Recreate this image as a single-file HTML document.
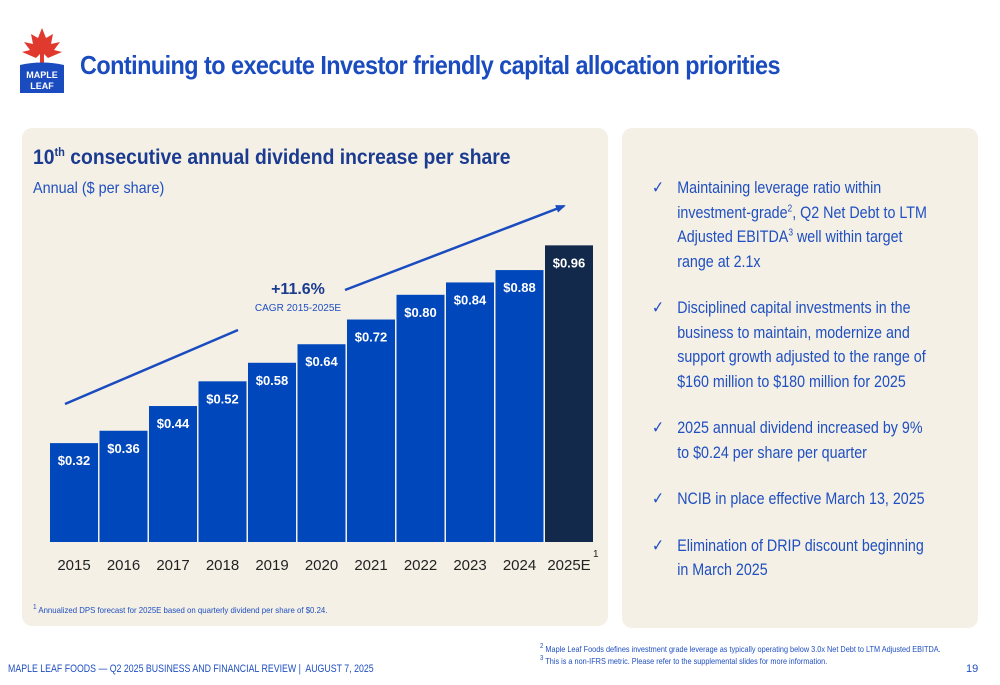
<!DOCTYPE html>
<html><head><meta charset="utf-8"><style>
body{margin:0;width:1000px;height:685px;background:#fff;font-family:"Liberation Sans",sans-serif;position:relative;overflow:hidden}
.abs{position:absolute}
.panel{position:absolute;background:#f4f0e6;border-radius:10px}
.title{left:80px;top:50px;font-size:26px;font-weight:bold;color:#1a4bbf;letter-spacing:-0.6px;transform:scaleX(0.9);transform-origin:left}
ul{list-style:none;margin:0;padding:0}
li{position:relative;padding-left:30px;font-size:17px;line-height:24.5px;color:#1f4fc0;margin-bottom:22px}
li:before{content:"✓";position:absolute;left:0;top:0}
sup{line-height:0}
</style></head><body>
<div class="abs" style="left:18px;top:28px;width:48px;height:66px">
<svg width="48" height="66"><polygon points="24,0 28,10 35,6 33,16 42,14 36,22 44,24 30,30 26,26 26,36 22,36 22,26 18,30 4,24 12,22 6,14 15,16 13,6 20,10" fill="#e03a2f"/><path d="M2 37 Q24 32 46 37 L46 65 L2 65Z" fill="#1a4bbf"/><text x="24" y="50" font-size="9" font-weight="bold" fill="#fff" text-anchor="middle">MAPLE</text><text x="24" y="61" font-size="9" font-weight="bold" fill="#fff" text-anchor="middle">LEAF</text></svg></div>
<div class="abs title">Continuing to execute Investor friendly capital allocation priorities</div>
<div class="panel" style="left:22px;top:128px;width:586px;height:498px"></div>
<div class="panel" style="left:622px;top:128px;width:356px;height:500px"></div>
<div class="abs" style="left:33px;top:146px;font-size:21px;font-weight:bold;color:#1a3b8f;transform:scaleX(0.92);transform-origin:left;white-space:nowrap">10<sup style="font-size:12px">th</sup> consecutive annual dividend increase per share</div>
<div class="abs" style="left:33px;top:180px;font-size:16px;color:#1f4fc0;transform:scaleX(0.9);transform-origin:left">Annual ($ per share)</div>
<svg class="abs" style="left:0;top:0" width="1000" height="685" id="chart">
<defs><marker id="ar" markerUnits="userSpaceOnUse" markerWidth="10" markerHeight="8" refX="8" refY="4" orient="auto"><path d="M0,0 L10,4 L0,8z" fill="#1a4bbf"/></marker></defs>
<line x1="65" y1="404" x2="238" y2="330" stroke="#1a4bbf" stroke-width="2.5"/>
<line x1="345" y1="290" x2="564" y2="206" stroke="#1a4bbf" stroke-width="2.5" marker-end="url(#ar)"/>
<text x="298" y="294" font-size="16" font-weight="bold" fill="#1a3b8f" text-anchor="middle">+11.6%</text>
<text x="298" y="311" font-size="10" fill="#1f4fc0" text-anchor="middle">CAGR 2015-2025E</text>
<g id="bars"></g>
<text x="593" y="557" font-size="10" fill="#222">1</text>
</svg>
<div class="abs" style="left:33px;top:605px;font-size:8.5px;color:#1f4fc0;white-space:nowrap;transform:scaleX(0.92);transform-origin:left"><sup>1</sup> Annualized DPS forecast for 2025E based on quarterly dividend per share of $0.24.</div>
<ul class="abs" style="left:652px;top:176px;width:362px;transform:scaleX(0.84);transform-origin:left top">
<li>Maintaining leverage ratio within<br>investment-grade<sup style="font-size:10px">2</sup>, Q2 Net Debt to LTM<br>Adjusted EBITDA<sup style="font-size:10px">3</sup> well within target<br>range at 2.1x</li>
<li>Disciplined capital investments in the<br>business to maintain, modernize and<br>support growth adjusted to the range of<br>$160 million to $180 million for 2025</li>
<li>2025 annual dividend increased by 9%<br>to $0.24 per share per quarter</li>
<li>NCIB in place effective March 13, 2025</li>
<li>Elimination of DRIP discount beginning<br>in March 2025</li>
</ul>
<div class="abs" style="left:540px;top:643px;font-size:8.5px;line-height:12px;color:#1f4fc0;white-space:nowrap;transform:scaleX(0.86);transform-origin:left"><sup>2</sup> Maple Leaf Foods defines investment grade leverage as typically operating below 3.0x Net Debt to LTM Adjusted EBITDA.<br><sup>3</sup> This is a non-IFRS metric. Please refer to the supplemental slides for more information.</div>
<div class="abs" style="left:8px;top:663px;font-size:11px;color:#1f4fc0;white-space:nowrap;transform:scaleX(0.8);transform-origin:left">MAPLE LEAF FOODS — Q2 2025 BUSINESS AND FINANCIAL REVIEW |&nbsp; AUGUST 7, 2025</div>
<div class="abs" style="left:966px;top:663px;font-size:11px;color:#1f4fc0">19</div>
<script>
const years=["2015","2016","2017","2018","2019","2020","2021","2022","2023","2024","2025E"];
const values=[0.32,0.36,0.44,0.52,0.58,0.64,0.72,0.80,0.84,0.88,0.96];
const labels=["$0.32","$0.36","$0.44","$0.52","$0.58","$0.64","$0.72","$0.80","$0.84","$0.88","$0.96"];
const base=542,scale=309,x0=50,pitch=49.5,bw=48;
const yS=v=>base-v*scale, xS=i=>x0+i*pitch;
const g=document.getElementById('bars'),NS="http://www.w3.org/2000/svg";
years.forEach((yr,i)=>{
 const r=document.createElementNS(NS,'rect');
 r.setAttribute('x',xS(i));r.setAttribute('y',yS(values[i]));r.setAttribute('width',bw);r.setAttribute('height',base-yS(values[i]));
 r.setAttribute('fill',i===years.length-1?'#13294b':'#0047bb');
 
 
 g.appendChild(r);
 const t=document.createElementNS(NS,'text');
 t.setAttribute('x',xS(i)+bw/2);t.setAttribute('y',yS(values[i])+22);t.setAttribute('text-anchor','middle');
 t.setAttribute('font-size','13');t.setAttribute('font-weight','bold');t.setAttribute('fill','#fff');t.textContent=labels[i];
 
 
 g.appendChild(t);
 const a=document.createElementNS(NS,'text');
 a.setAttribute('x',xS(i)+bw/2);a.setAttribute('y',570);a.setAttribute('text-anchor','middle');
 a.setAttribute('font-size','15');a.setAttribute('fill','#222');a.textContent=yr;
 
 
 g.appendChild(a);
});
</script>
</body></html>
